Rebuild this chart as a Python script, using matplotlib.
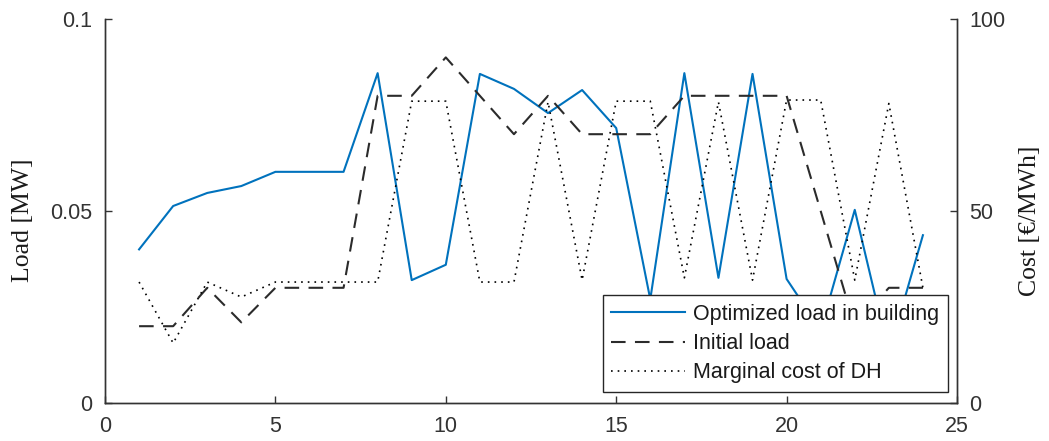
import numpy as np
import matplotlib
matplotlib.use("Agg")
import matplotlib.pyplot as plt

# data
hours = np.arange(1, 25)
optimized_load = [0.040, 0.0513, 0.0547, 0.0565, 0.0602, 0.0602, 0.0602, 0.0859,
                  0.032, 0.036, 0.0857, 0.0818, 0.0755, 0.0815, 0.0716, 0.027,
                  0.0859, 0.0326, 0.0857, 0.0323, 0.019, 0.0503, 0.013, 0.0437]
initial_load = [0.02, 0.02, 0.03, 0.021, 0.03, 0.03, 0.03, 0.08,
                0.08, 0.09, 0.08, 0.07, 0.08, 0.07, 0.07, 0.07,
                0.08, 0.08, 0.08, 0.08, 0.05, 0.02, 0.03, 0.03]
marginal_cost = [31.5, 15.6, 31.5, 27.6, 31.5, 31.5, 31.5, 31.5,
                 78.6, 78.6, 31.5, 31.5, 78.4, 32.0, 78.6, 78.6,
                 32.6, 78.4, 32.0, 78.9, 78.9, 32.0, 78.0, 30.0]

txt = '#333333'
fig = plt.figure(figsize=(10.49, 4.41), dpi=100)
ax = fig.add_axes([105/1049, 1 - 403/441, (957 - 105)/1049, (403 - 19)/441])
ax2 = ax.twinx()

l1, = ax.plot(hours, optimized_load, color='#0072BD', lw=1.5,
              label='Optimized load in building')
l2, = ax.plot(hours, initial_load, color='#2b2b2b', lw=1.5, dashes=(7, 4.5),
              label='Initial load')
l3, = ax2.plot(hours, marginal_cost, color='black', lw=1.2, dashes=(1, 3),
               label='Marginal cost of DH')

ax.set_xlim(0, 25)
ax.set_ylim(0, 0.1)
ax2.set_ylim(0, 100)
ax.set_xticks([0, 5, 10, 15, 20, 25])
ax.set_yticks([0, 0.05, 0.1])
ax.set_yticklabels(['0', '0.05', '0.1'])
ax2.set_yticks([0, 50, 100])

for a in (ax, ax2):
    a.spines['top'].set_visible(False)
    for s in a.spines.values():
        s.set_color(txt)
        s.set_linewidth(1.0)
    a.tick_params(direction='in', length=5, width=1, colors=txt,
                  labelsize=15.5, pad=9)
    for lab in a.get_xticklabels() + a.get_yticklabels():
        lab.set_family('Liberation Sans')

ax.set_ylabel('Load [MW]', family='Liberation Serif', fontsize=18.5, color='#1a1a1a')
ax2.set_ylabel('Cost [€/MWh]', family='Liberation Serif', fontsize=18.5, color='#1a1a1a')
ax.yaxis.set_label_coords(34/1049, 0.5, transform=fig.transFigure)
ax2.yaxis.set_label_coords(1019/1049, 0.5, transform=fig.transFigure)

leg = ax2.legend([l1, l2, l3], [l1.get_label(), l2.get_label(), l3.get_label()],
                 loc='lower right', bbox_to_anchor=(948/1049, 1 - 392/441),
                 bbox_transform=fig.transFigure, borderaxespad=0,
                 fancybox=False, framealpha=1, edgecolor='#262626',
                 handlelength=3.4, handletextpad=0.4, labelspacing=0.38,
                 prop={'family': 'Liberation Sans', 'size': 15.5})
leg.get_frame().set_linewidth(1.0)
for t in leg.get_texts():
    t.set_color('#1a1a1a')

fig.savefig('out.png', dpi=100)
